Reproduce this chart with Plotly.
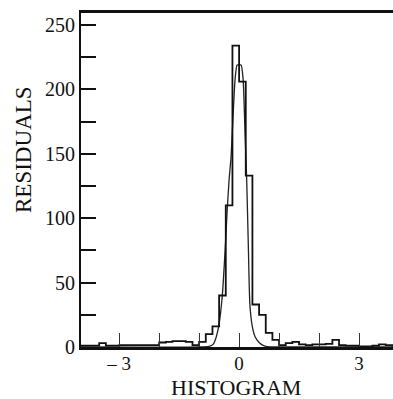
import plotly.graph_objects as go

# ---------------- data ----------------
bin_start = -4.0
bin_width = 1.0 / 6.0
counts = [
    1, 1, 1, 3, 1, 1, 1.5, 1.5, 1.5, 1.5, 1.5, 1.5,
    3.5, 4, 4.5, 4.5, 4, 1.5, 4, 10, 16, 40, 110, 234,
    206, 133, 33, 25, 11, 5.5, 1.5, 3, 4, 2, 1.5, 2,
    2, 2.5, 5.5, 1.5, 1, 1, 0.5, 0.5, 1, 2, 1.5, 1,
]

curve_x = [-4.0, -1.0, -0.75, -0.65, -0.57, -0.5, -0.42, -0.35, -0.3, -0.25,
           -0.2, -0.15, -0.1, -0.05, 0.0, 0.05, 0.1, 0.15, 0.19, 0.23,
           0.27, 0.33, 0.4, 0.5, 0.6, 0.7, 1.0, 4.0]
curve_y = [0, 0, 0.5, 2, 8, 18, 40, 75, 105, 130,
           148, 180, 208, 219, 219, 219, 208, 165, 130, 80,
           33, 16, 8, 3.5, 1.2, 0.3, 0, 0]

x_tick_vals = [-3, -2, -1, 0, 1, 2, 3]
x_tick_text = ["– 3", "", "", "0", "", "", "3"]
y_tick_vals = [0, 50, 100, 150, 200, 250]
y_tick_text = ["0", "50", "100", "150", "200", "250"]

# ---------------- figure ----------------
edges = [bin_start + i * bin_width for i in range(len(counts) + 1)]
step_y = counts + [counts[-1]]

font_family = "Liberation Serif"

fig = go.Figure()
fig.add_trace(go.Scatter(
    x=curve_x, y=curve_y, mode="lines",
    line=dict(color="#222", width=1.3, shape="spline", smoothing=0.6),
    hoverinfo="skip", showlegend=False,
))
fig.add_trace(go.Scatter(
    x=edges, y=step_y, mode="lines",
    line=dict(color="#111", width=1.8, shape="hv"),
    hoverinfo="skip", showlegend=False,
))

fig.update_layout(
    width=393, height=399,
    margin=dict(l=81, r=0, t=13, b=52),
    paper_bgcolor="white", plot_bgcolor="white",
    font=dict(family=font_family, color="#111", size=20),
    showlegend=False,
    xaxis=dict(
        range=[-3.955, 3.85],
        showgrid=False, zeroline=False,
        showline=True, linecolor="#111", linewidth=2.5, mirror=True,
        ticks="inside", ticklen=14, tickwidth=1, tickcolor="#333",
        tickvals=x_tick_vals, ticktext=x_tick_text,
        tickfont=dict(family=font_family, size=19, color="#111"),
        ticklabelstandoff=-3,
    ),
    yaxis=dict(
        range=[0, 259.3],
        showgrid=False, zeroline=False,
        showline=True, linecolor="#111", linewidth=2, mirror=False,
        ticks="inside", ticklen=15, tickwidth=2, tickcolor="#111",
        tickvals=y_tick_vals, ticktext=y_tick_text,
        tickfont=dict(family=font_family, size=20, color="#111"),
        minor=dict(ticks="inside", ticklen=15, tickwidth=2, tickcolor="#111", dtick=25, showgrid=False),
    ),
    annotations=[
        dict(text="RESIDUALS", xref="paper", yref="paper",
             x=(23 - 81) / 312, y=(347 - 150) / 334, textangle=-90,
             showarrow=False, xanchor="center", yanchor="middle",
             font=dict(family=font_family, size=23, color="#111")),
        dict(text="HISTOGRAM", xref="paper", yref="paper",
             x=(236 - 81) / 312, y=(347 - 387) / 334,
             showarrow=False, xanchor="center", yanchor="middle",
             font=dict(family=font_family, size=22, color="#111")),
    ],
)

fig.write_html("out.html")
